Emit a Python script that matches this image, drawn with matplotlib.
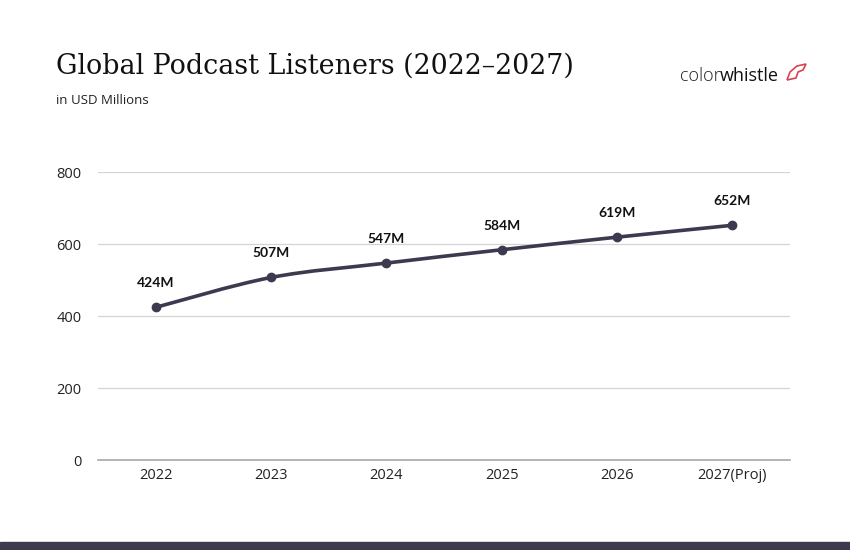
import matplotlib.pyplot as plt
from matplotlib.path import Path
from matplotlib.patches import PathPatch, Rectangle

years = ["2022", "2023", "2024", "2025", "2026", "2027(Proj)"]
listeners = [424, 507, 547, 584, 619, 652]
labels = ["424M", "507M", "547M", "584M", "619M", "652M"]
yticks = [0, 200, 400, 600, 800]

dark = "#3d3a4f"

fig = plt.figure(figsize=(8.5, 5.5), dpi=100)
ax = fig.add_axes([98 / 850, 90 / 550, 692 / 850, 288 / 550])

x = list(range(len(years)))

# smooth curve through the points (cardinal spline as bezier segments)
t = 0.5 / 3
n = len(x)
verts = [(x[0], listeners[0])]
codes = [Path.MOVETO]
for i in range(n - 1):
    p0 = (x[max(i - 1, 0)], listeners[max(i - 1, 0)])
    p1 = (x[i], listeners[i])
    p2 = (x[i + 1], listeners[i + 1])
    p3 = (x[min(i + 2, n - 1)], listeners[min(i + 2, n - 1)])
    c1 = (p1[0] + (p2[0] - p0[0]) * t, p1[1] + (p2[1] - p0[1]) * t)
    c2 = (p2[0] - (p3[0] - p1[0]) * t, p2[1] - (p3[1] - p1[1]) * t)
    verts += [c1, c2, p2]
    codes += [Path.CURVE4] * 3
ax.add_patch(PathPatch(Path(verts, codes), fill=False, edgecolor=dark,
                       lw=2.6, capstyle="round", zorder=3))
ax.plot(x, listeners, "o", color=dark, ms=6, zorder=4)

for xi, v, lab in zip(x, listeners, labels):
    ax.annotate(lab, (xi, v), xytext=(0, 13), textcoords="offset points",
                ha="center", va="bottom", fontsize=10, fontweight="bold",
                family="Lato", color="#111111")

ax.set_xlim(-0.5, n - 0.5)
ax.set_ylim(0, 800)
ax.set_yticks(yticks)
ax.set_xticks(x)
ax.set_xticklabels(years)
ax.grid(axis="y", color="#d4d4d4", lw=0.9)
ax.set_axisbelow(True)
for s in ["top", "right", "left"]:
    ax.spines[s].set_visible(False)
ax.spines["bottom"].set_color("#a8a8a8")
ax.spines["bottom"].set_linewidth(1.2)
ax.tick_params(axis="both", length=0, labelsize=10.5, labelcolor="#222222")
ax.tick_params(axis="y", pad=12)
ax.tick_params(axis="x", pad=6)
for lab in ax.get_xticklabels() + ax.get_yticklabels():
    lab.set_family("Open Sans")

fig.text(56 / 850, 1 - 66 / 550, "Global Podcast Listeners (2022\u20132027)",
         fontsize=19.4, family="DejaVu Serif", va="center", color="#111111")
fig.text(56 / 850, 1 - 100 / 550, "in USD Millions", fontsize=9.5,
         family="Open Sans", va="center", color="#222222")

# logo
fig.text(680 / 850, 1 - 76 / 550, "color", fontsize=13, family="Open Sans",
         fontweight="light", va="center", color="#222222")
fig.text(720 / 850, 1 - 76 / 550, "whistle", fontsize=13, family="Open Sans",
         va="center", color="#111111")
icon = [(787, 80), (790, 72), (797, 66), (806, 64), (803, 70), (798, 72),
        (796, 78), (787, 80)]
icon = [(px / 850, 1 - py / 550) for px, py in icon]
fig.patches.append(PathPatch(Path(icon), transform=fig.transFigure,
                             fill=False, edgecolor="#d9434f", lw=1.2))
fig.patches.append(Rectangle((0, 0), 1, 8 / 550, transform=fig.transFigure,
                             color=dark))

fig.savefig("out.png", dpi=100, facecolor="white")
